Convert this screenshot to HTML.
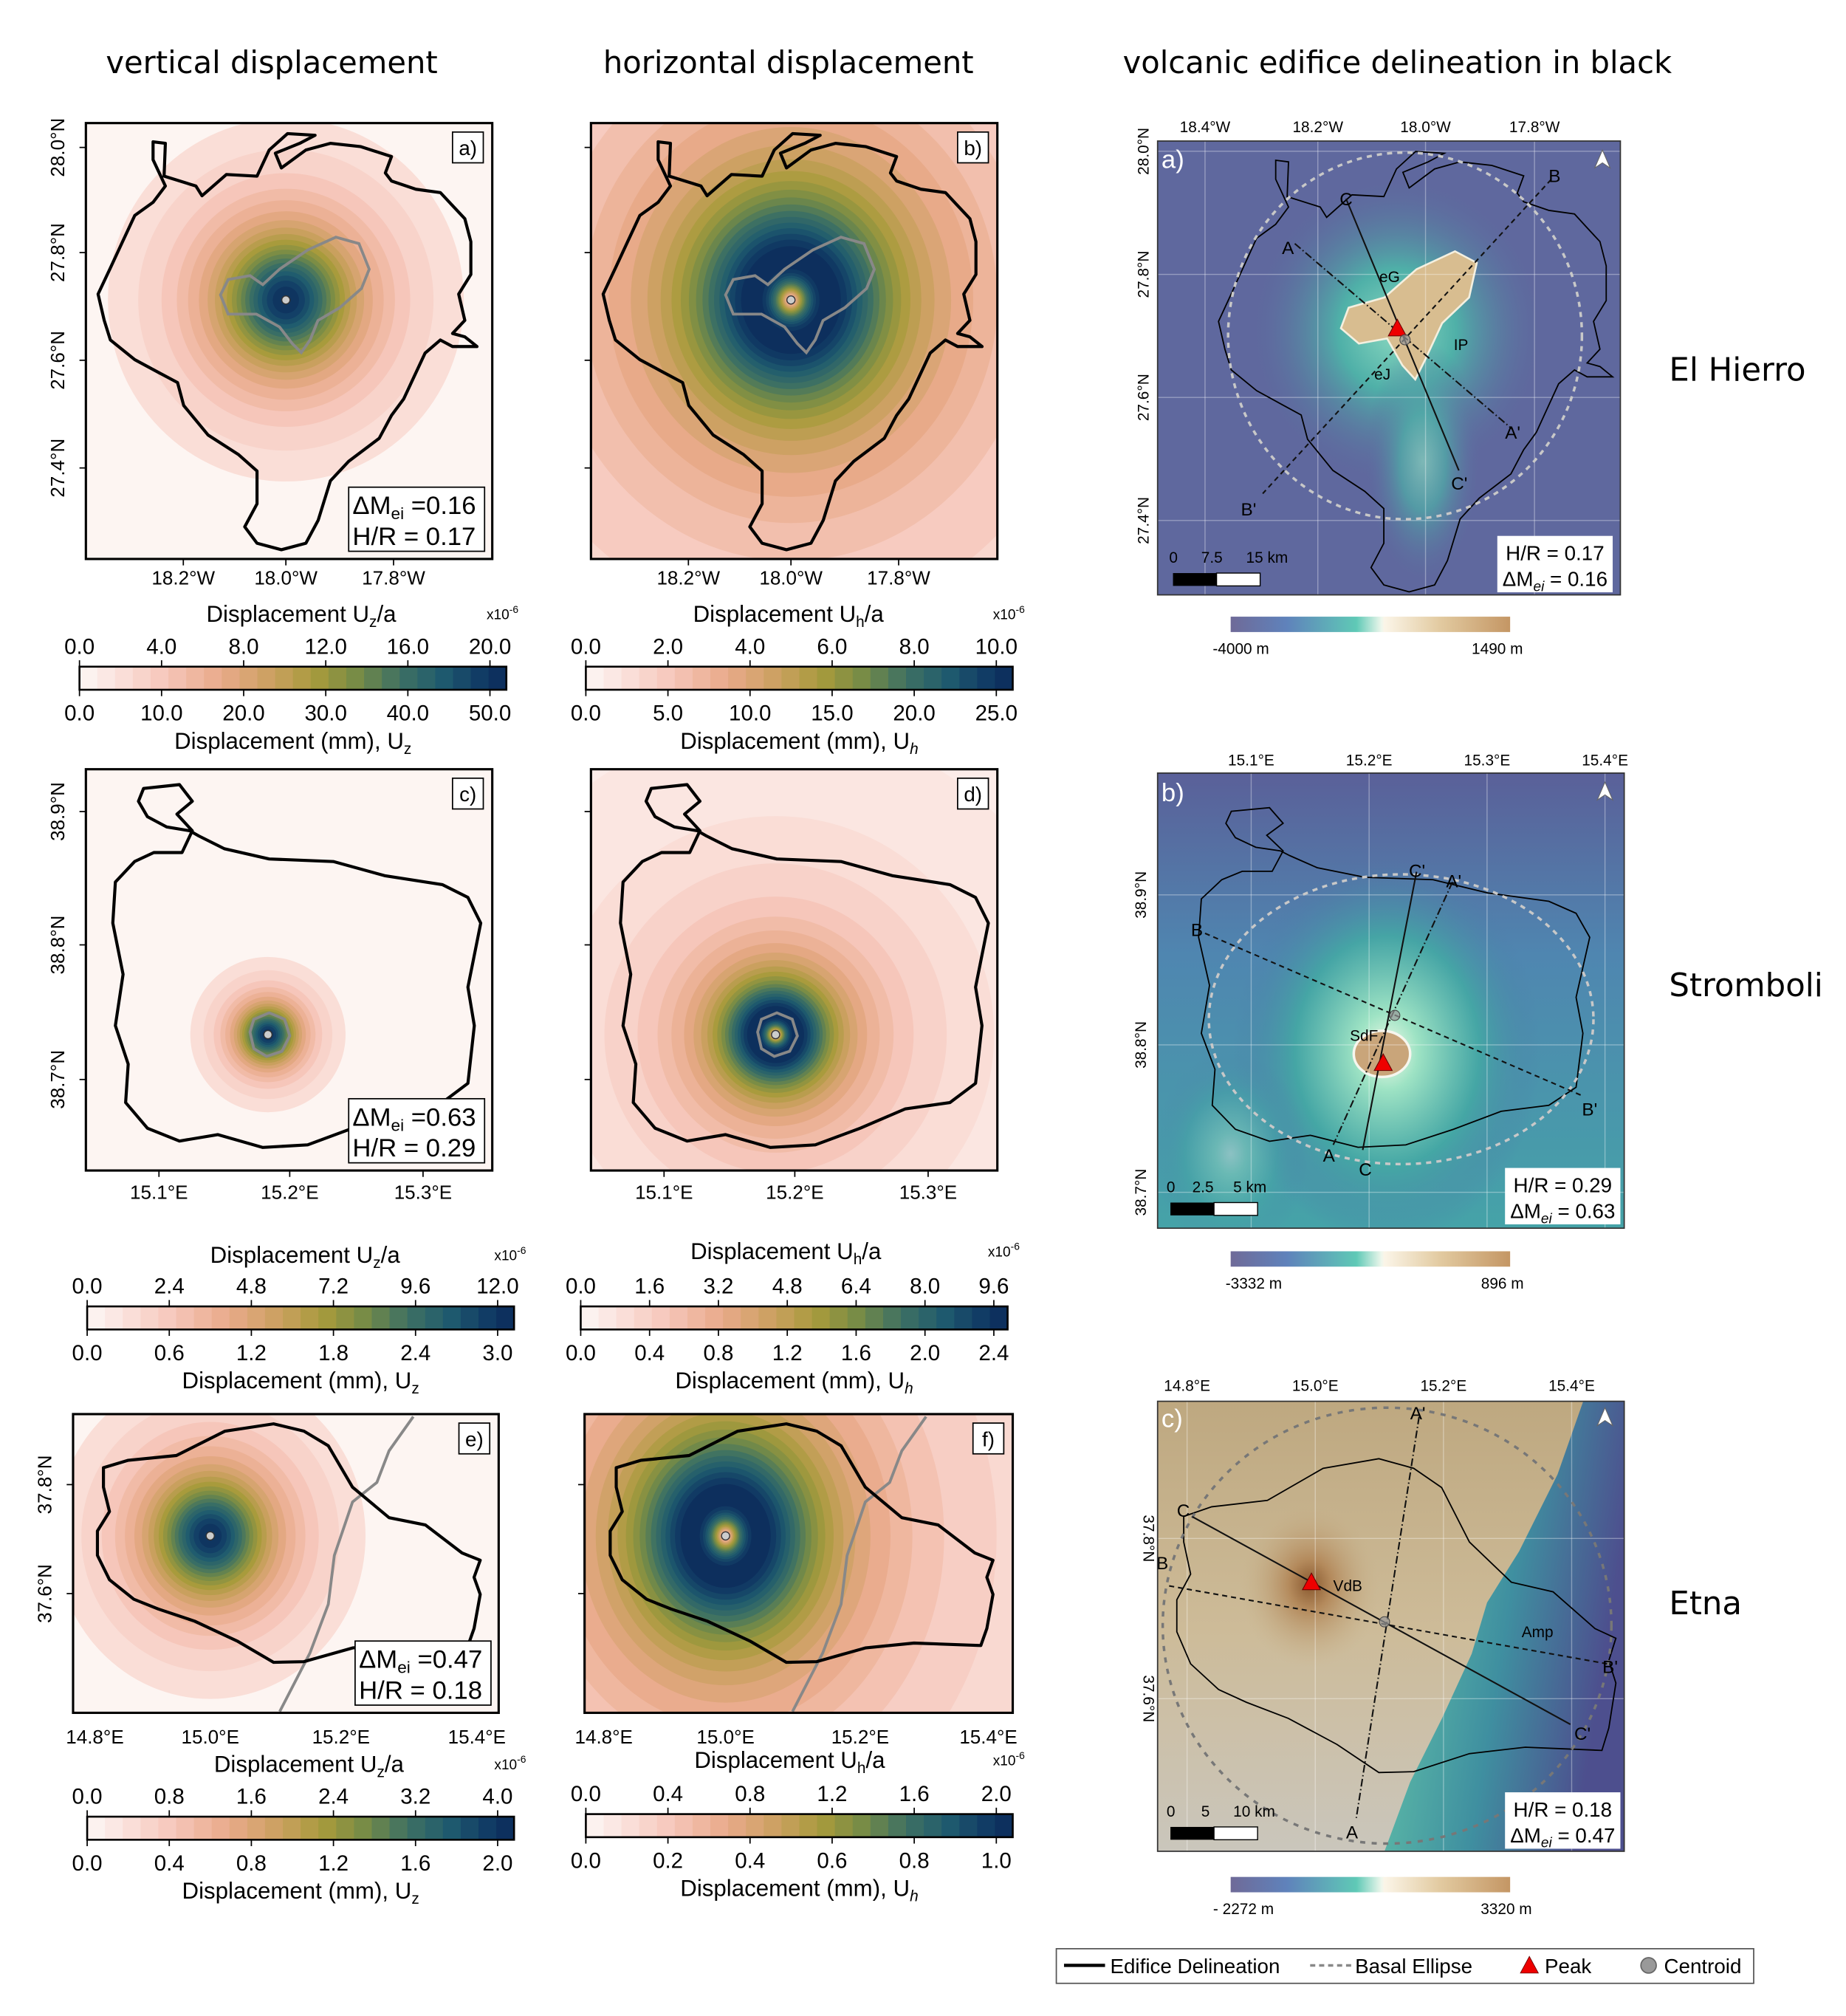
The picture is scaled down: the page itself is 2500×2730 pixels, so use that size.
<!DOCTYPE html>
<html><head><meta charset="utf-8"><style>
html,body{margin:0;padding:0;background:#fff;width:2500px;height:2730px;overflow:hidden;position:relative;}
svg{display:block;position:absolute;left:0;top:0;font-family:"Liberation Sans",sans-serif;}
</style></head><body>
<svg id="fig" xmlns="http://www.w3.org/2000/svg" width="2500" height="2730" viewBox="0 0 1440 1572.48" preserveAspectRatio="none" overflow="hidden">
<defs>
<linearGradient id="topoA" x1="0" x2="1"><stop offset="0" stop-color="#6f6a98"/><stop offset="0.2" stop-color="#5f82bb"/><stop offset="0.45" stop-color="#5fc9b6"/><stop offset="0.54" stop-color="#eef7ec"/><stop offset="0.55" stop-color="#fbf5e8"/><stop offset="0.75" stop-color="#e2caa0"/><stop offset="1" stop-color="#c49664"/></linearGradient>
<radialGradient id="glowA" cx="0.5" cy="0.5" r="0.5"><stop offset="0" stop-color="#8ad8c0"/><stop offset="0.4" stop-color="#4fb0a8"/><stop offset="1" stop-color="#5d6aa0" stop-opacity="0"/></radialGradient>
<radialGradient id="glowB" cx="0.5" cy="0.5" r="0.5"><stop offset="0" stop-color="#f2fbe9"/><stop offset="0.2" stop-color="#9ee3c4"/><stop offset="0.6" stop-color="#44a8a4" stop-opacity="0.9"/><stop offset="1" stop-color="#4d79a8" stop-opacity="0"/></radialGradient>
<radialGradient id="brownC" cx="0.5" cy="0.5" r="0.5"><stop offset="0" stop-color="#8a5a30"/><stop offset="0.3" stop-color="#b48a5c"/><stop offset="1" stop-color="#c8b48e" stop-opacity="0"/></radialGradient>
<linearGradient id="seaC" x1="0" y1="0" x2="1" y2="0.3"><stop offset="0" stop-color="#d9ecdc"/><stop offset="0.25" stop-color="#58b4a6"/><stop offset="0.6" stop-color="#3f8fa0"/><stop offset="1" stop-color="#4d4f8e"/></linearGradient>
<linearGradient id="landC" x1="0" y1="0" x2="0" y2="1"><stop offset="0" stop-color="#bea880"/><stop offset="0.5" stop-color="#cdbb98"/><stop offset="1" stop-color="#cac6bc"/></linearGradient>
<linearGradient id="seaB" x1="0" y1="0" x2="0" y2="1"><stop offset="0" stop-color="#5a6099"/><stop offset="0.4" stop-color="#4f86b0"/><stop offset="1" stop-color="#45a3a8"/></linearGradient>
<clipPath id="cpA"><rect x="67" y="96" width="317" height="340"/></clipPath>
<clipPath id="cpB"><rect x="461" y="96" width="317" height="340"/></clipPath>
<clipPath id="cpC"><rect x="67" y="600" width="317" height="313"/></clipPath>
<clipPath id="cpD"><rect x="461" y="600" width="317" height="313"/></clipPath>
<clipPath id="cpE"><rect x="57" y="1103" width="332" height="233"/></clipPath>
<clipPath id="cpF"><rect x="456" y="1103" width="334" height="233"/></clipPath>
<clipPath id="cpMA"><rect x="903" y="110" width="361" height="354"/></clipPath>
<clipPath id="cpMB"><rect x="903" y="603" width="364" height="355"/></clipPath>
<clipPath id="cpMC"><rect x="903" y="1093" width="364" height="351"/></clipPath>
</defs>

<text x="212" y="57" font-size="24" text-anchor="middle" font-family="DejaVu Sans, sans-serif">vertical displacement</text>
<text x="615" y="57" font-size="24" text-anchor="middle" font-family="DejaVu Sans, sans-serif">horizontal displacement</text>
<text x="1090" y="57" font-size="24" text-anchor="middle" font-family="DejaVu Sans, sans-serif">volcanic edifice delineation in black</text>

<g id="panels"></g>
<g id="maps"></g>
<g id="bars"></g>

<text x="1302" y="297" font-size="25" font-family="DejaVu Sans, sans-serif">El Hierro</text>
<text x="1302" y="777" font-size="25" font-family="DejaVu Sans, sans-serif">Stromboli</text>
<text x="1302" y="1259" font-size="25" font-family="DejaVu Sans, sans-serif">Etna</text>

<g>
<rect x="824" y="1520" width="544" height="27" fill="#fff" stroke="#555" stroke-width="1"/>
<line x1="830" y1="1533" x2="862" y2="1533" stroke="#000" stroke-width="2.5"/>
<text x="866" y="1539" font-size="16">Edifice Delineation</text>
<line x1="1022" y1="1533" x2="1054" y2="1533" stroke="#888" stroke-width="2" stroke-dasharray="4,3"/>
<text x="1057" y="1539" font-size="16">Basal Ellipse</text>
<polygon points="1193,1526 1186,1539 1200,1539" fill="#e00" stroke="#600" stroke-width="0.5"/>
<text x="1205" y="1539" font-size="16">Peak</text>
<circle cx="1286" cy="1533" r="6" fill="#999" stroke="#666"/>
<text x="1298" y="1539" font-size="16">Centroid</text>
</g>
</svg>
<script>
// ---- chart data ----
const levels = [0.01,0.025,0.05,0.08,0.12,0.16,0.2,0.25,0.3,0.35,0.4,0.45,0.5,0.55,0.6,0.65,0.7,0.75,0.8,0.85,0.9,0.95];
const cbTopA = ["0.0","4.0","8.0","12.0","16.0","20.0"];
const cbBotA = ["0.0","10.0","20.0","30.0","40.0","50.0"];
const cbTopB = ["0.0","2.0","4.0","6.0","8.0","10.0"];
const cbBotB = ["0.0","5.0","10.0","15.0","20.0","25.0"];
const cbTopC = ["0.0","2.4","4.8","7.2","9.6","12.0"];
const cbBotC = ["0.0","0.6","1.2","1.8","2.4","3.0"];
const cbTopD = ["0.0","1.6","3.2","4.8","6.4","8.0","9.6"];
const cbBotD = ["0.0","0.4","0.8","1.2","1.6","2.0","2.4"];
const cbTopE = ["0.0","0.8","1.6","2.4","3.2","4.0"];
const cbBotE = ["0.0","0.4","0.8","1.2","1.6","2.0"];
const cbTopF = ["0.0","0.4","0.8","1.2","1.6","2.0"];
const cbBotF = ["0.0","0.2","0.4","0.6","0.8","1.0"];
const hierroLatTicks = ["28.0°N","27.8°N","27.6°N","27.4°N"];
const hierroLonTicks = ["18.2°W","18.0°W","17.8°W"];
const stromLatTicks = ["38.9°N","38.8°N","38.7°N"];
const stromLonTicks = ["15.1°E","15.2°E","15.3°E"];
const etnaLatTicks = ["37.8°N","37.6°N"];
const etnaLonTicks = ["14.8°E","15.0°E","15.2°E","15.4°E"];

const NS="http://www.w3.org/2000/svg";
function el(tag,attrs,parent){const e=document.createElementNS(NS,tag);for(const k in attrs)e.setAttribute(k,attrs[k]);(parent||document.getElementById('fig')).appendChild(e);return e;}
const stops=[[0,[253,247,245]],[0.08,[251,228,223]],[0.2,[246,199,187]],[0.33,[233,170,138]],[0.45,[203,160,96]],[0.55,[168,155,60]],[0.65,[118,139,70]],[0.75,[62,113,99]],[0.85,[31,91,110]],[0.93,[18,62,102]],[1,[11,42,90]]];
function cmap(t){t=Math.max(0,Math.min(1,t));for(let i=1;i<stops.length;i++){if(t<=stops[i][0]){const a=stops[i-1],b=stops[i];const f=(t-a[0])/(b[0]-a[0]);const c=a[1].map((v,j)=>Math.round(v+(b[1][j]-v)*f));return `rgb(${c[0]},${c[1]},${c[2]})`;}}return 'rgb(11,42,90)';}

const hierro=[[119.4,110.6],[129,111.8],[128,137.4],[152.8,145.1],[157.6,152.7],[176.6,136.1],[200.5,137.4],[210,117],[224.3,104.2],[245.8,105.5],[233.8,111.8],[214.8,119.5],[219.5,131],[238.6,117],[257.7,111.8],[281.5,114.4],[305.4,122.1],[300.6,134.9],[305.4,141.2],[324.4,147.6],[343.5,150.2],[353,160.4],[362.6,170.6],[367.3,188.5],[367.3,214.1],[357.8,229.4],[362.6,249.9],[353,260.1],[362.6,262.7],[372.1,270.3],[353,270.3],[343.5,265.2],[331.6,275.4],[324.4,290.8],[314.9,311.2],[305.4,324],[295.8,341.9],[272,359.8],[257.7,375.1],[248.2,405.8],[238.6,423.7],[219.5,428.8],[200.5,423.7],[190.9,410.9],[200.5,393],[200.5,367.4],[186.2,354.7],[162.3,339.3],[143.3,316.3],[138.5,298.4],[124.2,290.8],[105.1,280.5],[86.1,265.2],[81.3,249.9],[76.5,229.4],[86.1,209],[95.6,188.5],[105.1,168.1],[119.4,157.8],[129,145.1],[119.4,124.6]];
const hierroIsl=[[178,218],[195,215],[205,222],[218,210],[240,195],[262,185],[280,190],[288,210],[282,225],[265,240],[248,250],[242,265],[235,275],[228,268],[218,255],[200,245],[178,245],[172,230]];
const strom=[[112,615],[140,612],[150,625],[138,635],[150,648],[142,665],[120,665],[105,672],[90,688],[88,720],[96,760],[90,800],[100,830],[98,860],[115,880],[140,890],[170,885],[205,895],[240,893],[275,880],[310,865],[345,860],[365,845],[370,800],[365,770],[375,720],[365,700],[345,690],[300,683],[260,672],[210,670],[175,662],[155,652],[148,648],[130,645],[115,637],[108,625]];
const stromIsl=[[198,795],[210,790],[222,795],[226,808],[220,820],[208,824],[198,818],[195,805]];
const etna=[[80.7,1144.8],[99.7,1139.1],[137.6,1135.3],[175.5,1116.3],[213.4,1110.6],[237.1,1116.3],[256.1,1127.7],[275,1160],[303.5,1183.8],[331.9,1189.5],[360.4,1211.3],[374.6,1217],[369.8,1230.3],[374.6,1243.6],[369.8,1270.2],[365.1,1283.5],[313,1281.6],[275,1285.4],[237.1,1296.1],[213.4,1296.6],[185,1280],[151.8,1264.5],[123.4,1255],[104.4,1247.4],[85.4,1232.2],[76,1213.2],[76,1194.2],[85.4,1179],[80.7,1160]];
const etnaCoast=[[322.4,1105],[303.5,1131.6],[294,1156.3],[275,1171.5],[260.8,1213.3],[256.1,1251.3],[241.8,1289.3],[218.2,1335]];
function pts(a,dx){return a.map(p=>(p[0]+(dx||0)).toFixed(1)+','+p[1].toFixed(1)).join(' ');}

function uzR(f,d){return d*Math.sqrt(Math.pow(f,-2/3)-1);}
function gH(s){return s/Math.pow(1+s*s,1.5);}
function uhRoots(f,d){const tgt=f*gH(Math.SQRT1_2);let lo=0,hi=Math.SQRT1_2;for(let i=0;i<50;i++){const m=(lo+hi)/2;if(gH(m)<tgt)lo=m;else hi=m;}const r1=lo;lo=Math.SQRT1_2;hi=200;for(let i=0;i<60;i++){const m=(lo+hi)/2;if(gH(m)>tgt)lo=m;else hi=m;}return [r1*d,lo*d];}

const panels=[
 {id:'a',type:'z',x:67,y:96,w:317,h:340,cx:223,cy:234,d:55,gm:0.75,ky:1.02,clip:'cpA',outline:hierro,dx:0,grey:hierroIsl,closedGrey:true,lab:'a)',box:['0.16','0.17']},
 {id:'b',type:'h',x:461,y:96,w:317,h:340,cx:617,cy:234,d:42,gm:0.72,ky:1.08,clip:'cpB',outline:hierro,dx:394,grey:hierroIsl,closedGrey:true,lab:'b)'},
 {id:'c',type:'z',x:67,y:600,w:317,h:313,cx:209,cy:807,d:24,gm:0.75,ky:1.0,clip:'cpC',outline:strom,dx:0,grey:stromIsl,closedGrey:true,lab:'c)',box:['0.63','0.29']},
 {id:'d',type:'h',x:461,y:600,w:317,h:313,cx:605,cy:807,d:24,gm:0.8,ky:1.0,clip:'cpD',outline:strom,dx:396,grey:stromIsl,closedGrey:true,lab:'d)'},
 {id:'e',type:'z',x:57,y:1103,w:332,h:233,cx:164,cy:1198,d:48,gm:0.75,ky:1.05,clip:'cpE',outline:etna,dx:0,grey:etnaCoast,closedGrey:false,lab:'e)',box:['0.47','0.18']},
 {id:'f',type:'h',x:456,y:1103,w:334,h:233,cx:566,cy:1198,d:38,gm:0.75,ky:1.15,clip:'cpF',outline:etna,dx:400,grey:etnaCoast,closedGrey:false,lab:'f)'}
];
const P=document.getElementById('panels');
panels.forEach(p=>{
 const g=el('g',{},P);
 
 
 const cg=el('g',{'clip-path':'url(#'+p.clip+')'},g);
 const bg=el('rect',{x:p.x,y:p.y,width:p.w,height:p.h,fill:cmap(0.01)},cg);
 
 
 const cornerMax=Math.max(Math.hypot(p.cx-p.x,p.cy-p.y),Math.hypot(p.x+p.w-p.cx,p.cy-p.y),Math.hypot(p.cx-p.x,p.y+p.h-p.cy),Math.hypot(p.x+p.w-p.cx,p.y+p.h-p.cy))+2;
 const cap=r=>Math.min(r,cornerMax);
 const col=f=>cmap(Math.pow(f,p.gm)+(p.type==='h'?0.02:0));
 if(p.type==='z'){
  levels.filter(f=>f>=0.04).forEach(f=>{const r=cap(uzR(f,p.d));const e=el('ellipse',{cx:p.cx,cy:p.cy,rx:r,ry:r*p.ky,fill:col(f)},cg);
   
   });
 } else {
  levels.forEach(f=>{const r=cap(uhRoots(f,p.d)[1]);const e=el('ellipse',{cx:p.cx,cy:p.cy,rx:r,ry:r*p.ky,fill:col(f)},cg);
   
   });
  for(let i=levels.length-1;i>=0;i--){const r=uhRoots(levels[i],p.d)[0];const c=i>0?col(levels[i-1]):cmap(0.02);const e=el('ellipse',{cx:p.cx,cy:p.cy,rx:r,ry:r*p.ky,fill:c},cg);
   
   }
 }
 const gr=el(p.closedGrey?'polygon':'polyline',{points:pts(p.grey,p.dx),fill:'none',stroke:'#888','stroke-width':2.2},cg);
 
 
 const ol=el('polygon',{points:pts(p.outline,p.dx),fill:'none',stroke:'#000','stroke-width':2.4,'stroke-linejoin':'round'},cg);
 
 
 const dot=el('circle',{cx:p.cx,cy:p.cy,r:3.2,fill:'#ccc',stroke:'#333','stroke-width':0.8},g);
 
 
 const fr=el('rect',{x:p.x,y:p.y,width:p.w,height:p.h,fill:'none',stroke:'#000','stroke-width':1.8},g);
 
 
 const lb=el('rect',{x:p.x+p.w-31,y:p.y+7,width:24,height:24,fill:'#fff',stroke:'#000','stroke-width':1},g);
 
 
 const lt=el('text',{x:p.x+p.w-19,y:p.y+25,'font-size':16,'text-anchor':'middle'},g);lt.textContent=p.lab;
 
 
 if(p.box){const bx=p.x+p.w-112,by=p.y+p.h-56;
  const b=el('rect',{x:bx,y:by,width:106,height:50,fill:'#fff',stroke:'#000','stroke-width':1},g);
  
  
  const t1=el('text',{x:bx+3,y:by+21,'font-size':20},g);
  t1.innerHTML='ΔM<tspan font-size="13" dy="4">ei</tspan><tspan dy="-4"> ='+p.box[0]+'</tspan>';
  
  
  const t2=el('text',{x:bx+3,y:by+45,'font-size':20},g);t2.textContent='H/R = '+p.box[1];
  
  }
});

function yTicks(labels,ys,x,g){labels.forEach((l,i)=>{const t=el('text',{x:x,y:ys[i],'font-size':15,'text-anchor':'middle',transform:`rotate(-90 ${x} ${ys[i]})`},g);t.textContent=l;
 
 });}
function xTicks(labels,xs,y,g){labels.forEach((l,i)=>{const t=el('text',{x:xs[i],y:y,'font-size':15,'text-anchor':'middle'},g);t.textContent=l;
 
 });}
function tickMarks(list,g){list.forEach(s=>{const l=el('line',{x1:s[0],y1:s[1],x2:s[2],y2:s[3],stroke:'#000','stroke-width':1},g);
 
 });}
const AX=el('g',{});


yTicks(hierroLatTicks,[115,197,281,365],50,AX);
xTicks(hierroLonTicks,[143,223,307],456,AX);
xTicks(hierroLonTicks,[537,617,701],456,AX);
yTicks(stromLatTicks,[633,737,842],50,AX);
xTicks(stromLonTicks,[124,226,330],935,AX);
xTicks(stromLonTicks,[518,620,724],935,AX);
yTicks(etnaLatTicks,[1158,1243],40,AX);
xTicks(etnaLonTicks,[74,164,266,372],1360,AX);
xTicks(etnaLonTicks,[471,566,671,771],1360,AX);
[115,197,281,365].forEach(y=>tickMarks([[62,y,67,y],[456,y,461,y]],AX));
[633,737,842].forEach(y=>tickMarks([[62,y,67,y],[456,y,461,y]],AX));
[1158,1243].forEach(y=>tickMarks([[52,y,57,y],[451,y,456,y]],AX));
[143,223,307].forEach(x=>tickMarks([[x,436,x,441],[x+394,436,x+394,441]],AX));
[124,226,330].forEach(x=>tickMarks([[x,913,x,918],[x+394,913,x+394,918]],AX));

const B=document.getElementById('bars');
function labelMax(labels){const last=parseFloat(labels[labels.length-1]);const step=parseFloat(labels[1]);return last+step*0.2;}
function cbSpan(labels){const step=parseFloat(labels[1]);return labelMax(labels)/step;}
function colorbar(x,y,w,h,tops,bots,sym,titleY,titleX){
 const g=el('g',{},B);
 
 
 const n=24;
 for(let i=0;i<n;i++){const r=el('rect',{x:x+i*w/n,y:y,width:w/n+0.4,height:h,fill:cmap((i+0.5)/n)},g);
  
  }
 const fr=el('rect',{x:x,y:y,width:w,height:h,fill:'none',stroke:'#000','stroke-width':1.5},g);
 
 
 const topStep=w/(cbSpan(tops));
 tops.forEach((l,i)=>{const xx=x+i*topStep;const t=el('text',{x:xx,y:y-10,'font-size':17,'text-anchor':'middle'},g);t.textContent=l;
  
  
  tickMarks([[xx,y-5,xx,y]],g);});
 const botStep=w/(cbSpan(bots));
 bots.forEach((l,i)=>{const xx=x+i*botStep;const t=el('text',{x:xx,y:y+h+24,'font-size':17,'text-anchor':'middle'},g);t.textContent=l;
  
  
  tickMarks([[xx,y+h,xx,y+h+5]],g);});
 const tt=el('text',{x:titleX,y:titleY,'font-size':18,'text-anchor':'middle'},g);
 tt.innerHTML='Displacement U<tspan font-size="12" dy="4">'+sym+'</tspan><tspan dy="-4">/a</tspan>';
 
 
 const sc=el('text',{x:x+w-3,y:titleY-2,'font-size':11,'text-anchor':'middle'},g);
 sc.innerHTML='x10<tspan font-size="8" dy="-5">-6</tspan>';
 
 
 const bt=el('text',{x:x+w/2,y:y+h+46,'font-size':18,'text-anchor':'middle'},g);
 bt.innerHTML='Displacement (mm), U<tspan font-size="12" dy="4" font-style="'+(sym==='h'?'italic':'normal')+'">'+sym+'</tspan>';
 
 
}
colorbar(62,520,333,18,cbTopA,cbBotA,'z',485,235);
colorbar(457,520,333,18,cbTopB,cbBotB,'h',485,615);
colorbar(68,1019,333,18,cbTopC,cbBotC,'z',985,238);
colorbar(453,1019,333,18,cbTopD,cbBotD,'h',982,613);
colorbar(68,1417,333,18,cbTopE,cbBotE,'z',1382,241);
colorbar(457,1415,333,18,cbTopF,cbBotF,'h',1379,616);

const M=document.getElementById('maps');
function mapFrame(g,x,y,w,h){const r=el('rect',{x:x,y:y,width:w,height:h,fill:'none',stroke:'#333','stroke-width':1},g);
 
 }
function mapText(g,x,y,txt,size,opts){const t=el('text',Object.assign({x:x,y:y,'font-size':size},opts||{}),g);t.textContent=txt;
 
 return t;}
function line(g,a,b,dash,w){const l=el('line',{x1:a[0],y1:a[1],x2:b[0],y2:b[1],stroke:'#111','stroke-width':w||1.2,'stroke-dasharray':dash||'none'},g);
 
 }
function statsBox(g,x,y,hr,dm){const r=el('rect',{x:x,y:y,width:90,height:44,fill:'#fff'},g);
 
 
 mapText(g,x+45,y+19,'H/R = '+hr,16,{'text-anchor':'middle'});
 const t=el('text',{x:x+45,y:y+39,'font-size':16,'text-anchor':'middle'},g);t.innerHTML='ΔM<tspan font-size="11" dy="4" font-style="italic">ei</tspan><tspan dy="-4"> = '+dm+'</tspan>';
 
 }
function scaleBar(g,x,y,labels,lx){labels.forEach((l,i)=>mapText(g,lx[i],y-8,l,12,{}));
 const a=el('rect',{x:x,y:y,width:34,height:10,fill:'#000'},g);
 const b=el('rect',{x:x+34,y:y,width:34,height:10,fill:'#fff',stroke:'#000','stroke-width':0.8},g);}
function north(g,x,y){const a=el('polygon',{points:`${x},${y} ${x+6},${y+14} ${x},${y+10} ${x-6},${y+14}`,fill:'#fff',stroke:'#666','stroke-width':0.6},g);
 
 }
function peak(g,x,y){const t=el('polygon',{points:`${x},${y-8} ${x-7},${y+5} ${x+7},${y+5}`,fill:'#e00',stroke:'#600','stroke-width':0.6},g);
 
 }
function cent(g,x,y){const c=el('circle',{cx:x,cy:y,r:4,fill:'#999','fill-opacity':0.7,stroke:'#444','stroke-width':0.6},g);
 
 }
function topoBar(g,y,l1,l2,x1,x2){const r=el('rect',{x:960,y:y,width:218,height:12,fill:'url(#topoA)'},g);
 
 
 mapText(g,x1,y+29,l1,12,{'text-anchor':'middle'});mapText(g,x2,y+29,l2,12,{'text-anchor':'middle'});}
function grid(g,xs,ys,x,y,w,h){xs.forEach(v=>{const l=el('line',{x1:v,y1:y,x2:v,y2:y+h,stroke:'#fff','stroke-opacity':0.35,'stroke-width':0.8},g);});
 ys.forEach(v=>{const l=el('line',{x1:x,y1:v,x2:x+w,y2:v,stroke:'#fff','stroke-opacity':0.35,'stroke-width':0.8},g);});}

(function(){
 const g=el('g',{},M);
 
 
 const c=el('g',{'clip-path':'url(#cpMA)'},g);
 el('rect',{x:903,y:110,width:361,height:354,fill:'#5f689e'},c);
 el('ellipse',{cx:1090,cy:258,rx:115,ry:120,fill:'url(#glowA)'},c);
 el('ellipse',{cx:1110,cy:360,rx:45,ry:95,fill:'url(#glowA)',opacity:0.7},c);
 el('polygon',{points:'1052,240 1080,232 1105,210 1135,196 1152,205 1146,232 1125,252 1112,280 1104,296 1094,285 1082,264 1060,268 1046,256',fill:'#d8bd90',stroke:'#f4f0e0','stroke-width':1.5},c);
 grid(c,[940,1028,1112,1197],[118,214,310,406],903,110,361,354);
 const o=el('polygon',{points:pts(hierro),fill:'none',stroke:'#000','stroke-width':1.8,'vector-effect':'non-scaling-stroke',transform:'translate(950,118) scale(1.04,1.058) translate(-76,-104)'},c);
 
 
 const e=el('ellipse',{cx:1096,cy:262,rx:138,ry:143,fill:'none',stroke:'#c8c8c8','stroke-width':2,'stroke-dasharray':'4,4'},c);
 
 
 line(c,[1050,155],[1138,367],'');line(c,[1010,190],[1180,335],'6,2,1,2');line(c,[1210,140],[985,385],'4,3');
 peak(c,1090,257);cent(c,1096,265);
 mapText(c,1076,220,'eG',12,{});mapText(c,1134,273,'IP',12,{});mapText(c,1072,296,'eJ',12,{});
 mapText(c,1045,160,'C',14,{});mapText(c,1000,198,'A',14,{});mapText(c,1208,142,'B',14,{});mapText(c,1174,342,"A'",14,{});mapText(c,1132,382,"C'",14,{});mapText(c,968,402,"B'",14,{});
 mapText(c,906,131,'a)',20,{fill:'#fff'});north(c,1250,117);
 scaleBar(c,915,447,['0','7.5','15 km'],[912,937,972]);
 statsBox(c,1168,418,'0.17','0.16');
 mapFrame(g,903,110,361,354);
 [[940,'18.4°W'],[1028,'18.2°W'],[1112,'18.0°W'],[1197,'17.8°W']].forEach(a=>mapText(g,a[0],103,a[1],12,{'text-anchor':'middle'}));
 [[118,'28.0°N'],[214,'27.8°N'],[310,'27.6°N'],[406,'27.4°N']].forEach(a=>mapText(g,896,a[0],a[1],12,{'text-anchor':'middle',transform:`rotate(-90 896 ${a[0]})`}));
 topoBar(g,481,'-4000 m','1490 m',968,1168);
})();

(function(){
 const g=el('g',{},M);
 
 
 const c=el('g',{'clip-path':'url(#cpMB)'},g);
 el('rect',{x:903,y:603,width:364,height:355,fill:'url(#seaB)'},c);
 el('ellipse',{cx:1082,cy:820,rx:120,ry:150,fill:'url(#glowB)'},c);
 el('ellipse',{cx:960,cy:900,rx:60,ry:80,fill:'url(#glowB)',opacity:0.4},c);
 el('ellipse',{cx:1078,cy:822,rx:22,ry:18,fill:'#c9a57a',stroke:'#f6f6ee','stroke-width':2},c);
 grid(c,[976,1068,1160,1252],[698,815,930],903,603,364,355);
 const o=el('polygon',{points:pts(strom),fill:'none',stroke:'#000','stroke-width':1.8,'vector-effect':'non-scaling-stroke',transform:'translate(935,630) scale(1.063,0.936) translate(-88,-612)'},c);
 
 
 const e=el('ellipse',{cx:1093,cy:795,rx:150,ry:113,fill:'none',stroke:'#c8c8c8','stroke-width':2,'stroke-dasharray':'4,4'},c);
 
 
 line(c,[1105,680],[1063,897],'');line(c,[1133,688],[1040,893],'6,2,1,2');line(c,[940,728],[1235,855],'4,3');
 peak(c,1079,830);cent(c,1088,792);
 mapText(c,1053,812,'SdF',12,{});
 mapText(c,1099,684,"C'",14,{});mapText(c,1128,692,"A'",14,{});mapText(c,929,730,'B',14,{});mapText(c,1234,870,"B'",14,{});mapText(c,1032,906,'A',14,{});mapText(c,1060,917,'C',14,{});
 mapText(c,906,625,'b)',20,{fill:'#fff'});north(c,1252,610);
 scaleBar(c,913,938,['0','2.5','5 km'],[910,930,962]);
 statsBox(c,1174,911,'0.29','0.63');
 mapFrame(g,903,603,364,355);
 [[976,'15.1°E'],[1068,'15.2°E'],[1160,'15.3°E'],[1252,'15.4°E']].forEach(a=>mapText(g,a[0],597,a[1],12,{'text-anchor':'middle'}));
 [[698,'38.9°N'],[815,'38.8°N'],[930,'38.7°N']].forEach(a=>mapText(g,894,a[0],a[1],12,{'text-anchor':'middle',transform:`rotate(-90 894 ${a[0]})`}));
 topoBar(g,976,'-3332 m','896 m',978,1172);
})();

(function(){
 const g=el('g',{},M);
 
 
 const c=el('g',{'clip-path':'url(#cpMC)'},g);
 el('rect',{x:903,y:1093,width:364,height:351,fill:'url(#landC)'},c);
 el('ellipse',{cx:1022,cy:1236,rx:55,ry:65,fill:'url(#brownC)'},c);
 el('polygon',{points:'1235,1093 1267,1093 1267,1444 1080,1444 1100,1390 1125,1340 1148,1290 1160,1250 1185,1210 1215,1150',fill:'url(#seaC)'},c);
 grid(c,[926,1026,1126,1226],[1200,1325],903,1093,364,351);
 const o=el('polygon',{points:pts(etna),fill:'none',stroke:'#000','stroke-width':1.8,'vector-effect':'non-scaling-stroke',transform:'translate(918,1137) scale(1.147,1.316) translate(-76,-1110)'},c);
 
 
 const e=el('ellipse',{cx:1082,cy:1268,rx:175,ry:170,fill:'none',stroke:'#777','stroke-width':2,'stroke-dasharray':'4,5'},c);
 
 
 line(c,[930,1183],[1225,1345],'');line(c,[912,1237],[1255,1298],'4,3');line(c,[1107,1105],[1058,1418],'6,2,1,2');
 peak(c,1023,1235);cent(c,1080,1265);
 mapText(c,1040,1241,'VdB',12,{});mapText(c,1187,1277,'Amp',12,{});
 mapText(c,918,1183,'C',14,{});mapText(c,902,1224,'B',14,{});mapText(c,1100,1107,"A'",14,{});mapText(c,1250,1305,"B'",14,{});mapText(c,1228,1357,"C'",14,{});mapText(c,1050,1434,'A',14,{});
 mapText(c,906,1113,'c)',20,{fill:'#fff'});north(c,1252,1098);
 scaleBar(c,913,1425,['0','5','10 km'],[910,937,962]);
 statsBox(c,1174,1398,'0.18','0.47');
 mapFrame(g,903,1093,364,351);
 [[926,'14.8°E'],[1026,'15.0°E'],[1126,'15.2°E'],[1226,'15.4°E']].forEach(a=>mapText(g,a[0],1085,a[1],12,{'text-anchor':'middle'}));
 [[1200,'37.8°N'],[1325,'37.6°N']].forEach(a=>mapText(g,892,a[0],a[1],12,{'text-anchor':'middle',transform:`rotate(90 892 ${a[0]})`}));
 topoBar(g,1464,'- 2272 m','3320 m',970,1175);
})();
</script>
</body></html>
